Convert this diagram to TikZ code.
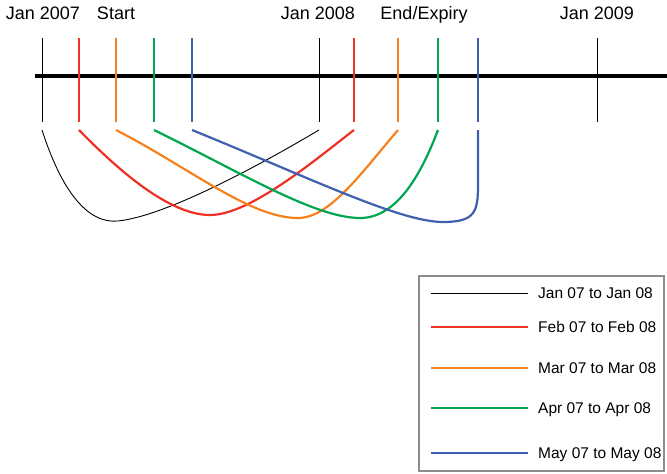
\documentclass[tikz,border=0pt]{standalone}
\usepackage{fontspec}
\setmainfont{Liberation Sans}
\definecolor{tlred}{HTML}{EE3124}
\definecolor{tlorange}{HTML}{F5821F}
\definecolor{tlgreen}{HTML}{00A651}
\definecolor{tlblue}{HTML}{3F60AE}
\definecolor{tlframe}{HTML}{8C8C8C}

\begin{document}
\begin{tikzpicture}[x=1pt,y=-1pt,
  lbl/.style={font=\fontsize{18}{18}\selectfont,anchor=base,inner sep=0pt},
  key/.style={font=\fontsize{15.5}{15.5}\selectfont,anchor=base west,inner sep=0pt},
  span/.style={line width=2.2pt}]
\useasboundingbox (0,0) rectangle (667,474);
\def\yt{38}
\def\yb{122}
\def\yc{130}
  \draw[line width=4pt] (35,76) -- (667,76);
  \foreach \n/\xs/\xe/\c/\w in {0/42/319/black/0.9pt,1/79/354/tlred/2pt,
      2/116/398/tlorange/2pt,3/154/438/tlgreen/2pt,4/192/478/tlblue/2pt} {
    \draw[\c,line width=\w] (\xs,\yt) -- (\xs,\yb);
    \draw[\c,line width=\w] (\xe,\yt) -- (\xe,\yb);
    \coordinate (s\n) at (\xs,\yc);
    \coordinate (e\n) at (\xe,\yc);
  }
  \draw[line width=0.9pt] (597,\yt) -- (597,\yb);

  \node[lbl] (jan7) at (43,19) {Jan 2007};
  \node[lbl] (start) at (116,19) {Start};
  \node[lbl] (jan8) at (318,19) {Jan 2008};
  \node[lbl] (expiry) at (424,19) {End/Expiry};
  \node[lbl] (jan9) at (597,19) {Jan 2009};

  \draw[line width=0.9pt] (s0) .. controls (62,192) and (88,224) .. (118,221)
    .. controls (165,216) and (255,168) .. (e0);
  \draw[span,tlred] (s1) .. controls (120,172) and (170,215) .. (210,215)
    .. controls (250,215) and (315,160) .. (e1);
  \draw[span,tlorange] (s2) .. controls (190,168) and (250,218) .. (298,218)
    .. controls (330,218) and (362,172) .. (e2);
  \draw[span,tlgreen] (s3) .. controls (240,172) and (315,218) .. (360,218)
    .. controls (398,218) and (422,172) .. (e3);
  \draw[span,tlblue] (s4) .. controls (310,178) and (400,222) .. (443,222)
    .. controls (475,222) and (478,212) .. (478,185) -- (e4);

  \draw[tlframe,line width=2pt] (419,276) rectangle (664,471);
  \foreach \y/\c/\w/\t [count=\i] in {293/black/0.9pt/Jan 07 to Jan 08,
      327/tlred/2pt/Feb 07 to Feb 08,368/tlorange/2pt/Mar 07 to Mar 08,
      408/tlgreen/2pt/Apr 07 to Apr 08,453/tlblue/2pt/May 07 to May 08} {
    \coordinate (k\i) at (431,\y);
    \node[key] (t\i) at (538,\y+5.6) {\t};
    \draw[\c,line width=\w] (k\i) -- ++(97,0);
  }
\end{tikzpicture}
\end{document}
